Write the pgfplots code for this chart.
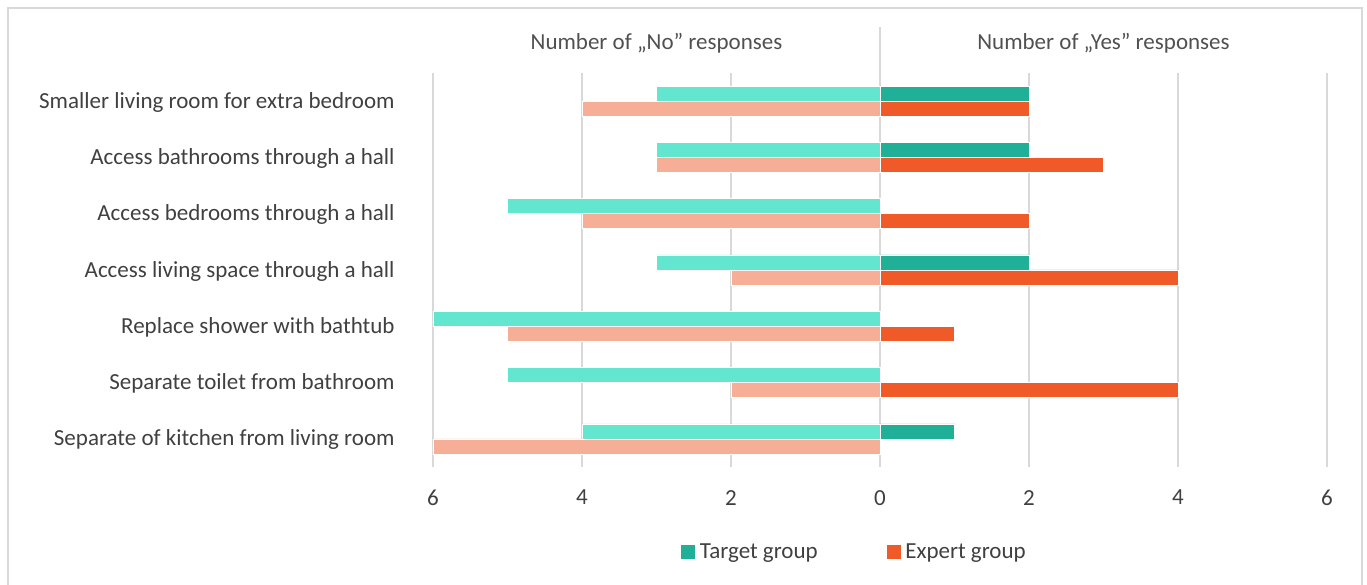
\documentclass[border=0pt]{standalone}
\usepackage{pgfplots}
\pgfplotsset{compat=1.18}
\usepackage{fontspec}
\setmainfont{Carlito}
\definecolor{tdark}{RGB}{31,176,151}
\definecolor{tlight}{RGB}{99,230,208}
\definecolor{edark}{RGB}{240,90,40}
\definecolor{elight}{RGB}{247,174,151}
\definecolor{gridc}{RGB}{217,217,217}
\definecolor{txt}{RGB}{64,64,64}
\definecolor{hdr}{RGB}{80,80,80}
\newcommand{\bigf}{\fontsize{23}{27}\selectfont}
\begin{document}
\begin{tikzpicture}[x=1pt,y=1pt]
\useasboundingbox (0,0) rectangle (1367,585);
\draw[gridc, line width=1.5pt] (8,-10) rectangle (1362,577);
\begin{axis}[
  at={(433pt,118pt)}, anchor=south west,
  scale only axis, width=894pt, height=394pt,
  xmin=-6, xmax=6, ymin=-0.5, ymax=6.5,
  axis line style={draw=none},
  tick style={draw=none},
  xmajorgrids, grid style={gridc, line width=1.5pt},
  xtick={-6,-4,-2,0,2,4,6},
  xticklabels={6,4,2,0,2,4,6},
  ytick={0,1,2,3,4,5,6},
  yticklabels={Separate of kitchen from living room,
    Separate toilet from bathroom,
    Replace shower with bathtub,
    Access living space through a hall,
    Access bedrooms through a hall,
    Access bathrooms through a hall,
    Smaller living room for extra bedroom},
  /pgf/number format/assume math mode=true,
  tick label style={font=\bigf, text=txt},
  yticklabel style={anchor=east, inner sep=0pt, xshift=-34pt, yshift=-1pt},
  xticklabel style={anchor=north, inner sep=0pt, yshift=-23pt},
  xbar, bar width=15pt,
  clip=false,
  legend style={at={(0.471,-0.216)}, anchor=center, draw=none, fill=none,
    legend columns=2, font=\bigf, text=txt,
    /tikz/every odd column/.append style={column sep=2pt},
    /tikz/every even column/.append style={column sep=66pt}},
  legend image code/.code={\fill[#1] (0pt,-7.5pt) rectangle (15pt,7.5pt);},
]
% Target group, No
\addplot[xbar, bar shift=7.5pt, fill=tlight, draw=white, line width=0.6pt, forget plot]
  coordinates {(-4,0) (-5,1) (-6,2) (-3,3) (-5,4) (-3,5) (-3,6)};
% Expert group, No
\addplot[xbar, bar shift=-7.5pt, fill=elight, draw=white, line width=0.6pt, forget plot]
  coordinates {(-6,0) (-2,1) (-5,2) (-2,3) (-4,4) (-3,5) (-4,6)};
% Target group, Yes
\addplot[xbar, bar shift=7.5pt, fill=tdark, draw=white, line width=0.6pt]
  coordinates {(1,0) (2,3) (2,5) (2,6)};
\addlegendentry{Target group}
% Expert group, Yes
\addplot[xbar, bar shift=-7.5pt, fill=edark, draw=white, line width=0.6pt]
  coordinates {(4,1) (1,2) (4,3) (2,4) (3,5) (2,6)};
\addlegendentry{Expert group}
\draw[gridc, line width=1.5pt] (axis cs:0,6.5) -- ([yshift=46pt]axis cs:0,6.5);
\node[font=\bigf, text=hdr] at ([yshift=30pt]axis cs:-3,6.5) {Number of „No” responses};
\node[font=\bigf, text=hdr] at ([yshift=30pt]axis cs:3,6.5) {Number of „Yes” responses};
\end{axis}
\end{tikzpicture}
\end{document}
